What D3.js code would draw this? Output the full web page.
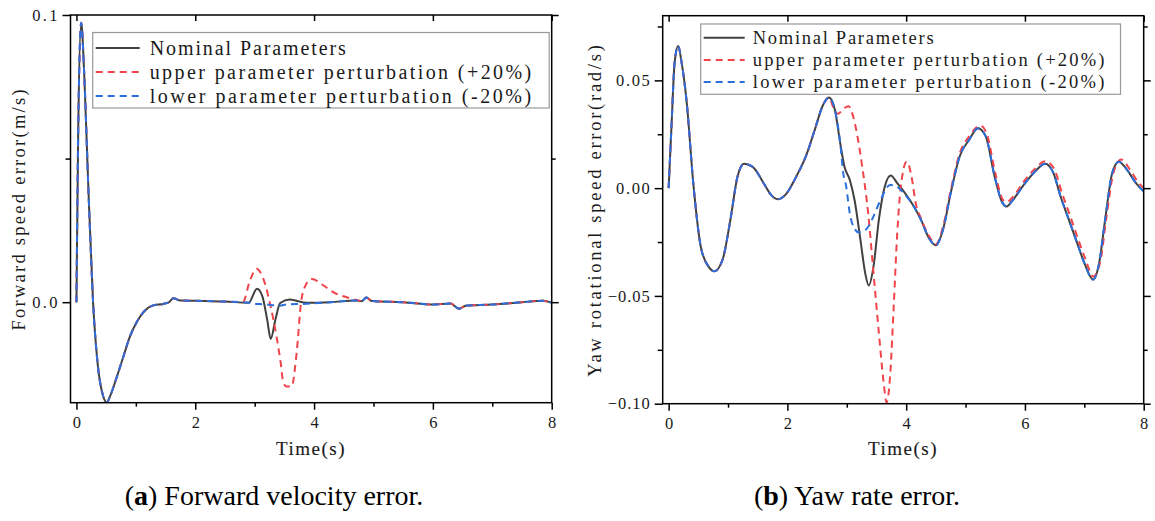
<!DOCTYPE html>
<html>
<head>
<meta charset="utf-8">
<script src="https://cdn.jsdelivr.net/npm/d3@7"></script>
<style>
  body { margin: 0; background: #fff; }
  svg { display: block; }
</style>
</head>
<body>
<script>
// ---- data: [time (s), error] ----
var seriesNames = ["Nominal Parameters", "upper parameter perturbation (+20%)", "lower parameter perturbation (-20%)"];
var xTicks = [0, 2, 4, 6, 8];

// (a) forward speed error (m/s)
var fwdNominal = [[0,0],[0.03,0.06],[0.08,0.0973],[0.13,0.08],[0.2,0.04],[0.28,0],[0.36,-0.022],[0.44,-0.032],
  [0.51,-0.0349],[0.58,-0.032],[0.68,-0.026],[0.78,-0.0196],[0.9,-0.012],[1.03,-0.0064],[1.15,-0.003],
  [1.28,-0.0012],[1.46,-0.0006],[1.56,0],[1.63,0.0014],[1.75,0.0006],[2.0,0.0005],[2.5,0.0002],[2.9,-0.0002],
  [3.04,0.0047],[3.13,0.002],[3.21,-0.006],[3.27,-0.0128],[3.35,-0.006],[3.43,-0.0003],[3.59,0.0009],
  [3.88,-0.0002],[4.27,0],[4.72,0.0006],[4.8,0.0003],[4.88,0.0016],[4.97,0.0004],[5.5,0],[6.0,-0.0008],
  [6.3,-0.0005],[6.44,-0.0023],[6.55,-0.0012],[7.0,-0.0008],[7.5,0],[7.85,0.0005],[8.0,-0.0002]];
var fwdUpper = [[0,0],[0.03,0.06],[0.08,0.0973],[0.13,0.08],[0.2,0.04],[0.28,0],[0.36,-0.022],[0.44,-0.032],
  [0.51,-0.0349],[0.58,-0.032],[0.68,-0.026],[0.78,-0.0196],[0.9,-0.012],[1.03,-0.0064],[1.15,-0.003],
  [1.28,-0.0012],[1.46,-0.0006],[1.56,0],[1.63,0.0014],[1.75,0.0006],[2.0,0.0005],[2.5,0.0002],[2.8,0],
  [2.92,0.0075],[3.03,0.0116],[3.13,0.009],[3.26,-0.0006],[3.37,-0.0122],[3.44,-0.0214],[3.48,-0.0278],
  [3.54,-0.0294],[3.62,-0.0294],[3.71,-0.0169],[3.78,-0.0002],[3.85,0.0056],[3.96,0.0081],[4.16,0.0058],
  [4.32,0.0035],[4.55,0.0017],[4.75,0.0006],[4.82,0.0004],[4.88,0.0016],[4.97,0.0004],[5.5,0],[6.0,-0.0008],
  [6.3,-0.0005],[6.44,-0.0023],[6.55,-0.0012],[7.0,-0.0008],[7.5,0],[7.85,0.0005],[8.0,-0.0002]];
var fwdLower = [[0,0],[0.03,0.06],[0.08,0.0973],[0.13,0.08],[0.2,0.04],[0.28,0],[0.36,-0.022],[0.44,-0.032],
  [0.51,-0.0349],[0.58,-0.032],[0.68,-0.026],[0.78,-0.0196],[0.9,-0.012],[1.03,-0.0064],[1.15,-0.003],
  [1.28,-0.0012],[1.46,-0.0006],[1.56,0],[1.63,0.0014],[1.75,0.0006],[2.0,0.0005],[2.5,0.0002],[2.9,-0.0002],
  [2.98,-0.0006],[3.15,-0.0007],[3.42,-0.0012],[3.54,-0.0008],[3.82,-0.0006],[4.27,0],[4.72,0.0006],
  [4.8,0.0003],[4.88,0.0016],[4.97,0.0004],[5.5,0],[6.0,-0.0008],[6.3,-0.0005],[6.44,-0.0023],
  [6.55,-0.0012],[7.0,-0.0008],[7.5,0],[7.85,0.0005],[8.0,-0.0002]];

// (b) yaw rotational speed error (rad/s)
var yawNominal = [[0,0],[0.05,0.03],[0.1,0.058],[0.16,0.066],[0.22,0.058],[0.3,0.041],[0.42,0.0008],
  [0.54,-0.027],[0.67,-0.0363],[0.77,-0.0386],[0.91,-0.033],[1.04,-0.0147],[1.16,0.0054],[1.27,0.0113],
  [1.41,0.01],[1.6,0.0023],[1.72,-0.003],[1.84,-0.0051],[1.97,-0.003],[2.15,0.0054],[2.31,0.0147],
  [2.46,0.027],[2.6,0.0386],[2.7,0.042],[2.8,0.0363],[2.89,0.0208],[2.96,0.01],[3.05,0.0039],
  [3.13,-0.0054],[3.23,-0.024],[3.31,-0.0394],[3.37,-0.0452],[3.45,-0.0363],[3.54,-0.0147],[3.64,0.0008],
  [3.74,0.0059],[3.85,0.0023],[3.98,-0.0023],[4.13,-0.0085],[4.25,-0.0147],[4.38,-0.023],[4.5,-0.0265],
  [4.62,-0.0193],[4.75,-0.0023],[4.9,0.0147],[5.06,0.0224],[5.21,0.0278],[5.34,0.024],[5.49,0.0054],
  [5.61,-0.0062],[5.69,-0.0085],[5.8,-0.0054],[5.98,0.0015],[6.17,0.0077],[6.34,0.0113],[6.48,0.007],
  [6.6,-0.0039],[6.73,-0.0139],[6.88,-0.0255],[7.0,-0.0347],[7.15,-0.0424],[7.25,-0.0347],[7.35,-0.0147],
  [7.47,0.007],[7.58,0.0123],[7.72,0.0085],[7.87,0.0023],[8.0,-0.0015]];
var yawUpper = [[0,0],[0.05,0.03],[0.1,0.058],[0.16,0.066],[0.22,0.058],[0.3,0.041],[0.42,0.0008],
  [0.54,-0.027],[0.67,-0.0363],[0.77,-0.0386],[0.91,-0.033],[1.04,-0.0147],[1.16,0.0054],[1.27,0.0113],
  [1.41,0.01],[1.6,0.0023],[1.72,-0.003],[1.84,-0.0051],[1.97,-0.003],[2.15,0.0054],[2.31,0.0147],
  [2.46,0.027],[2.6,0.0386],[2.7,0.042],[2.78,0.037],[2.85,0.0345],[2.95,0.037],[3.03,0.038],[3.1,0.034],
  [3.17,0.0255],[3.26,0.01],[3.36,-0.0116],[3.45,-0.0394],[3.54,-0.067],[3.62,-0.09],[3.67,-0.0995],
  [3.73,-0.087],[3.79,-0.055],[3.85,-0.0208],[3.91,0.0008],[4.01,0.0123],[4.09,0.0054],[4.16,-0.0069],
  [4.25,-0.014],[4.38,-0.022],[4.5,-0.026],[4.62,-0.018],[4.75,-0.001],[4.9,0.016],[5.06,0.024],
  [5.25,0.029],[5.36,0.025],[5.5,0.007],[5.62,-0.005],[5.69,-0.0065],[5.8,-0.004],[5.98,0.003],
  [6.17,0.009],[6.34,0.0125],[6.5,0.0085],[6.62,-0.002],[6.75,-0.012],[6.9,-0.024],[7.02,-0.033],
  [7.15,-0.041],[7.27,-0.034],[7.37,-0.014],[7.49,0.007],[7.62,0.0133],[7.76,0.009],[7.9,0.003],[8.0,0]];
var yawLower = [[0,0],[0.05,0.03],[0.1,0.058],[0.16,0.066],[0.22,0.058],[0.3,0.041],[0.42,0.0008],
  [0.54,-0.027],[0.67,-0.0363],[0.77,-0.0386],[0.91,-0.033],[1.04,-0.0147],[1.16,0.0054],[1.27,0.0113],
  [1.41,0.01],[1.6,0.0023],[1.72,-0.003],[1.84,-0.0051],[1.97,-0.003],[2.15,0.0054],[2.31,0.0147],
  [2.46,0.027],[2.6,0.0386],[2.7,0.042],[2.8,0.0363],[2.89,0.0208],[2.94,0.007],[2.99,0.0008],
  [3.05,-0.0116],[3.11,-0.0177],[3.2,-0.0205],[3.32,-0.0193],[3.45,-0.0131],[3.57,-0.0054],[3.73,0.0015],
  [3.88,0],[3.98,-0.003],[4.13,-0.0085],[4.25,-0.0147],[4.38,-0.023],[4.5,-0.0265],[4.62,-0.0193],
  [4.75,-0.0023],[4.9,0.0147],[5.06,0.0224],[5.21,0.0278],[5.34,0.024],[5.49,0.0054],[5.61,-0.0062],
  [5.69,-0.0085],[5.8,-0.0054],[5.98,0.0015],[6.17,0.0077],[6.34,0.0113],[6.48,0.007],[6.6,-0.0039],
  [6.73,-0.0139],[6.88,-0.0255],[7.0,-0.0347],[7.15,-0.0424],[7.25,-0.0347],[7.35,-0.0147],[7.47,0.007],
  [7.58,0.0123],[7.72,0.0085],[7.87,0.0023],[8.0,-0.0015]];

var colors = ["#404040", "#f0434a", "#2a6fdb"];
var dashes = [null, "7,5", "7,5"];
var serif = "'Liberation Serif', 'DejaVu Serif', serif";

var svg = d3.select("body").append("svg")
  .attr("width", 1155)
  .attr("height", 521);

// serif glyphs spread to a fixed cell width, like the original's mono CJK font
function monoText(sel, str, size, cell) {
  sel.style("font-family", serif)
    .style("font-size", size + "px")
    .attr("textLength", str.length * cell)
    .attr("lengthAdjust", "spacing")
    .attr("fill", "#1a1a1a")
    .text(str);
}

function drawPanel(p) {
  var x = d3.scaleLinear().domain([-0.1, 8]).range([p.left, p.right]);
  var y = d3.scaleLinear().domain(p.yDomain).range([p.bottom, p.top]);
  var g = svg.append("g");

  g.append("clipPath").attr("id", p.id)
    .append("rect")
    .attr("x", p.left).attr("y", p.top)
    .attr("width", p.right - p.left).attr("height", p.bottom - p.top);

  var line = d3.line()
    .x(function(d) { return x(d[0]); })
    .y(function(d) { return y(d[1]); })
    .curve(d3.curveMonotoneX);

  [0, 1, 2].forEach(function(i) {
    g.append("path")
      .datum(p.series[i])
      .attr("clip-path", "url(#" + p.id + ")")
      .attr("fill", "none")
      .attr("stroke", colors[i])
      .attr("stroke-width", 2)
      .attr("stroke-dasharray", dashes[i])
      .attr("d", line);
  });

  var minorX = [1, 3, 5, 7];
  var xFmt = d3.format("d"), yFmt = d3.format(p.yFormat);
  var styleAxis = function(sel, fmt) {
    sel.selectAll("path, line").attr("stroke", "#000").attr("stroke-width", 1.5);
    sel.selectAll("text").each(function(d) {
      if (fmt) monoText(d3.select(this), fmt(d), 16.5, 8.4);
    });
  };

  // bottom + left ticks point out, top + right ticks point in
  g.append("g")
    .attr("transform", "translate(0," + p.bottom + ")")
    .call(d3.axisBottom(x).tickValues(xTicks).tickSize(7).tickSizeOuter(0).tickPadding(7).tickFormat(xFmt))
    .call(styleAxis, xFmt);
  g.append("g")
    .attr("transform", "translate(0," + p.bottom + ")")
    .call(d3.axisBottom(x).tickValues(minorX).tickSize(4).tickSizeOuter(0).tickFormat(""))
    .call(styleAxis, null);
  g.append("g")
    .attr("transform", "translate(0," + p.top + ")")
    .call(d3.axisBottom(x).tickValues(xTicks).tickSize(6).tickSizeOuter(0).tickFormat(""))
    .call(styleAxis, null);

  g.append("g")
    .attr("transform", "translate(" + p.left + ",0)")
    .call(d3.axisLeft(y).tickValues(p.yTicks).tickSize(8).tickSizeOuter(0).tickPadding(5).tickFormat(yFmt))
    .call(styleAxis, yFmt);
  g.append("g")
    .attr("transform", "translate(" + p.left + ",0)")
    .call(d3.axisLeft(y).tickValues(p.yMinor).tickSize(5).tickSizeOuter(0).tickFormat(""))
    .call(styleAxis, null);
  g.append("g")
    .attr("transform", "translate(" + p.right + ",0)")
    .call(d3.axisLeft(y).tickValues(p.yTicks).tickSize(-7).tickSizeOuter(0).tickFormat(""))
    .call(styleAxis, null);
  g.append("g")
    .attr("transform", "translate(" + p.right + ",0)")
    .call(d3.axisLeft(y).tickValues(p.yMinor).tickSize(-4).tickSizeOuter(0).tickFormat(""))
    .call(styleAxis, null);
  g.selectAll(".domain").remove();

  // frame
  g.append("rect")
    .attr("x", p.left).attr("y", p.top)
    .attr("width", p.right - p.left).attr("height", p.bottom - p.top)
    .attr("fill", "none").attr("stroke", "#000").attr("stroke-width", 1.5);

  // legend
  var lg = p.legend;
  g.append("rect")
    .attr("x", lg.x).attr("y", lg.y).attr("width", lg.w).attr("height", lg.h)
    .attr("fill", "#fff").attr("stroke", "#999").attr("stroke-width", 1.2);
  seriesNames.forEach(function(name, i) {
    var ry = lg.y + lg.first + i * lg.step;
    g.append("line")
      .attr("x1", lg.x + 3).attr("x2", lg.x + lg.lineLen)
      .attr("y1", ry).attr("y2", ry)
      .attr("stroke", colors[i]).attr("stroke-width", 2)
      .attr("stroke-dasharray", dashes[i]);
    g.append("text")
      .attr("x", lg.x + lg.textX).attr("y", ry)
      .attr("dy", "0.33em")
      .call(monoText, name, lg.font, lg.cell);
  });

  // axis titles
  g.append("text")
    .attr("x", p.xTitleX - 34).attr("y", 455)
    .style("stroke", "#1a1a1a").style("stroke-width", 0.15)
    .call(monoText, "Time(s)", 19, 9.8);
  g.append("text")
    .attr("transform", "translate(" + p.yTitleX + "," + p.yTitleY + ") rotate(-90)")
    .attr("x", -p.yTitle.length * 10.05 / 2)
    .attr("dy", "0.33em")
    .call(monoText, p.yTitle, 18.5, 10.05);

  // caption
  var cap = g.append("text")
    .attr("x", p.capX).attr("y", 505)
    .attr("text-anchor", "middle")
    .style("font-family", serif)
    .style("font-size", "28px")
    .attr("fill", "#000");
  cap.append("tspan").text("(");
  cap.append("tspan").style("font-weight", "bold").text(p.capLetter);
  cap.append("tspan").text(") " + p.caption);
}

drawPanel({
  id: "clipA", left: 70.5, right: 551.7, top: 15, bottom: 402.7,
  yDomain: [-0.035, 0.1], yTicks: [0, 0.1], yMinor: [0.05], yFormat: ".1f",
  series: [fwdNominal, fwdUpper, fwdLower],
  legend: { x: 92.7, y: 32.5, w: 456.5, h: 75.5, first: 15.5, step: 24, lineLen: 47, textX: 57, font: 20, cell: 10.9 },
  xTitleX: 310, yTitleX: 18.5, yTitleY: 210, yTitle: "Forward speed error(m/s)",
  capX: 274, capLetter: "a", caption: "Forward velocity error."
});

drawPanel({
  id: "clipB", left: 662.7, right: 1143.7, top: 15.7, bottom: 403.7,
  yDomain: [-0.1, 0.08], yTicks: [-0.1, -0.05, 0, 0.05], yMinor: [-0.075, -0.025, 0.025, 0.075], yFormat: ".2f",
  series: [yawNominal, yawUpper, yawLower],
  legend: { x: 700.7, y: 24, w: 419.8, h: 70.3, first: 13.7, step: 22.2, lineLen: 44, textX: 52, font: 18.5, cell: 10.05 },
  xTitleX: 902, yTitleX: 594.7, yTitleY: 211, yTitle: "Yaw rotational speed error(rad/s)",
  capX: 857, capLetter: "b", caption: "Yaw rate error."
});
</script>
</body>
</html>
